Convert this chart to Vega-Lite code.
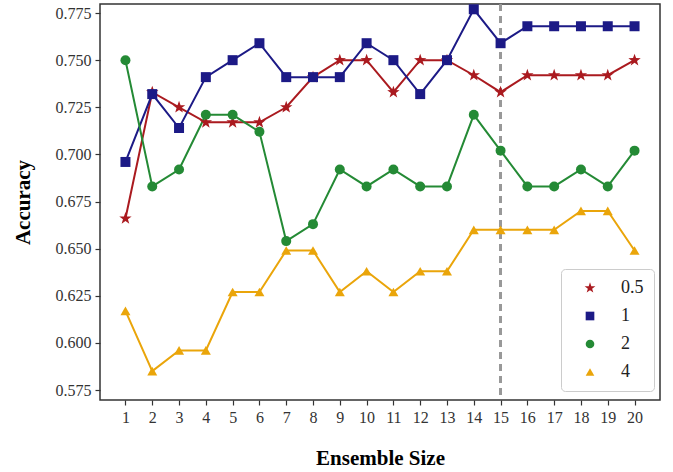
{
  "$schema": "https://vega.github.io/schema/vega-lite/v6.json",
  "width": 560,
  "height": 396,
  "autosize": {"type": "none"},
  "padding": {"left": 100, "top": 4, "right": 13, "bottom": 72},
  "background": "white",
  "config": {
    "font": "Liberation Serif",
    "view": {"stroke": "#333", "strokeWidth": 1.5},
    "axis": {"grid": false, "domain": false, "tickColor": "#333", "tickSize": 5, "tickWidth": 1.2, "labelColor": "#333", "labelFont": "Liberation Serif", "titleFont": "Liberation Serif", "titleColor": "black", "titleFontWeight": "bold", "titleFontSize": 21},
    "legend": {"orient": "none", "legendX": 461, "legendY": 265, "fillColor": "white", "strokeColor": "#ccc", "cornerRadius": 4, "padding": 10, "labelFontSize": 18, "labelColor": "#222", "labelFont": "Liberation Serif", "symbolSize": 75, "rowPadding": 10, "labelOffset": 22, "symbolOffset": 10, "symbolStrokeWidth": 0}
  },
  "data": {
    "values": [
      {"n": 1, "s": "0.5", "acc": 0.666}, {"n": 2, "s": "0.5", "acc": 0.733}, {"n": 3, "s": "0.5", "acc": 0.725}, {"n": 4, "s": "0.5", "acc": 0.717}, {"n": 5, "s": "0.5", "acc": 0.717}, {"n": 6, "s": "0.5", "acc": 0.717}, {"n": 7, "s": "0.5", "acc": 0.725}, {"n": 8, "s": "0.5", "acc": 0.741}, {"n": 9, "s": "0.5", "acc": 0.750}, {"n": 10, "s": "0.5", "acc": 0.750}, {"n": 11, "s": "0.5", "acc": 0.733}, {"n": 12, "s": "0.5", "acc": 0.750}, {"n": 13, "s": "0.5", "acc": 0.750}, {"n": 14, "s": "0.5", "acc": 0.742}, {"n": 15, "s": "0.5", "acc": 0.733}, {"n": 16, "s": "0.5", "acc": 0.742}, {"n": 17, "s": "0.5", "acc": 0.742}, {"n": 18, "s": "0.5", "acc": 0.742}, {"n": 19, "s": "0.5", "acc": 0.742}, {"n": 20, "s": "0.5", "acc": 0.750},
      {"n": 1, "s": "1", "acc": 0.696}, {"n": 2, "s": "1", "acc": 0.732}, {"n": 3, "s": "1", "acc": 0.714}, {"n": 4, "s": "1", "acc": 0.741}, {"n": 5, "s": "1", "acc": 0.750}, {"n": 6, "s": "1", "acc": 0.759}, {"n": 7, "s": "1", "acc": 0.741}, {"n": 8, "s": "1", "acc": 0.741}, {"n": 9, "s": "1", "acc": 0.741}, {"n": 10, "s": "1", "acc": 0.759}, {"n": 11, "s": "1", "acc": 0.750}, {"n": 12, "s": "1", "acc": 0.732}, {"n": 13, "s": "1", "acc": 0.750}, {"n": 14, "s": "1", "acc": 0.777}, {"n": 15, "s": "1", "acc": 0.759}, {"n": 16, "s": "1", "acc": 0.768}, {"n": 17, "s": "1", "acc": 0.768}, {"n": 18, "s": "1", "acc": 0.768}, {"n": 19, "s": "1", "acc": 0.768}, {"n": 20, "s": "1", "acc": 0.768},
      {"n": 1, "s": "2", "acc": 0.750}, {"n": 2, "s": "2", "acc": 0.683}, {"n": 3, "s": "2", "acc": 0.692}, {"n": 4, "s": "2", "acc": 0.721}, {"n": 5, "s": "2", "acc": 0.721}, {"n": 6, "s": "2", "acc": 0.712}, {"n": 7, "s": "2", "acc": 0.654}, {"n": 8, "s": "2", "acc": 0.663}, {"n": 9, "s": "2", "acc": 0.692}, {"n": 10, "s": "2", "acc": 0.683}, {"n": 11, "s": "2", "acc": 0.692}, {"n": 12, "s": "2", "acc": 0.683}, {"n": 13, "s": "2", "acc": 0.683}, {"n": 14, "s": "2", "acc": 0.721}, {"n": 15, "s": "2", "acc": 0.702}, {"n": 16, "s": "2", "acc": 0.683}, {"n": 17, "s": "2", "acc": 0.683}, {"n": 18, "s": "2", "acc": 0.692}, {"n": 19, "s": "2", "acc": 0.683}, {"n": 20, "s": "2", "acc": 0.702},
      {"n": 1, "s": "4", "acc": 0.617}, {"n": 2, "s": "4", "acc": 0.585}, {"n": 3, "s": "4", "acc": 0.596}, {"n": 4, "s": "4", "acc": 0.596}, {"n": 5, "s": "4", "acc": 0.627}, {"n": 6, "s": "4", "acc": 0.627}, {"n": 7, "s": "4", "acc": 0.649}, {"n": 8, "s": "4", "acc": 0.649}, {"n": 9, "s": "4", "acc": 0.627}, {"n": 10, "s": "4", "acc": 0.638}, {"n": 11, "s": "4", "acc": 0.627}, {"n": 12, "s": "4", "acc": 0.638}, {"n": 13, "s": "4", "acc": 0.638}, {"n": 14, "s": "4", "acc": 0.660}, {"n": 15, "s": "4", "acc": 0.660}, {"n": 16, "s": "4", "acc": 0.660}, {"n": 17, "s": "4", "acc": 0.660}, {"n": 18, "s": "4", "acc": 0.670}, {"n": 19, "s": "4", "acc": 0.670}, {"n": 20, "s": "4", "acc": 0.649}
    ]
  },
  "encoding": {
    "x": {"field": "n", "type": "quantitative", "title": "Ensemble Size",
      "scale": {"domain": [0.05, 20.95], "nice": false, "zero": false},
      "axis": {"values": [1,2,3,4,5,6,7,8,9,10,11,12,13,14,15,16,17,18,19,20], "labelFontSize": 16, "labelPadding": 4, "titlePadding": 22}},
    "y": {"field": "acc", "type": "quantitative", "title": "Accuracy",
      "scale": {"domain": [0.5697, 0.7798], "nice": false, "zero": false},
      "axis": {"values": [0.575, 0.6, 0.625, 0.65, 0.675, 0.7, 0.725, 0.75, 0.775], "format": ".3f", "labelFontSize": 16, "labelPadding": 4, "titlePadding": 22}},
    "color": {"field": "s", "type": "nominal", "title": null,
      "scale": {"domain": ["0.5", "1", "2", "4"], "range": ["#aa1a1f", "#1c1a86", "#248a35", "#eaa50a"]}}
  },
  "layer": [
    {
      "mark": {"type": "rule", "color": "#999", "strokeWidth": 1.3, "strokeDash": [7, 5]},
      "encoding": {"x": {"datum": 15}, "y": null, "color": null}
    },
    {
      "mark": {"type": "line", "strokeWidth": 2}
    },
    {
      "mark": {"type": "point", "filled": true, "opacity": 1, "size": 100},
      "encoding": {
        "shape": {"field": "s", "type": "nominal", "title": null,
          "scale": {"domain": ["0.5", "1", "2", "4"], "range": ["M0,-1.3L0.306,-0.421L1.236,-0.402L0.494,0.161L0.764,1.052L0,0.52L-0.764,1.052L-0.494,0.161L-1.236,-0.402L-0.306,-0.421Z", "square", "circle", "triangle-up"]}}
      }
    }
  ]
}
